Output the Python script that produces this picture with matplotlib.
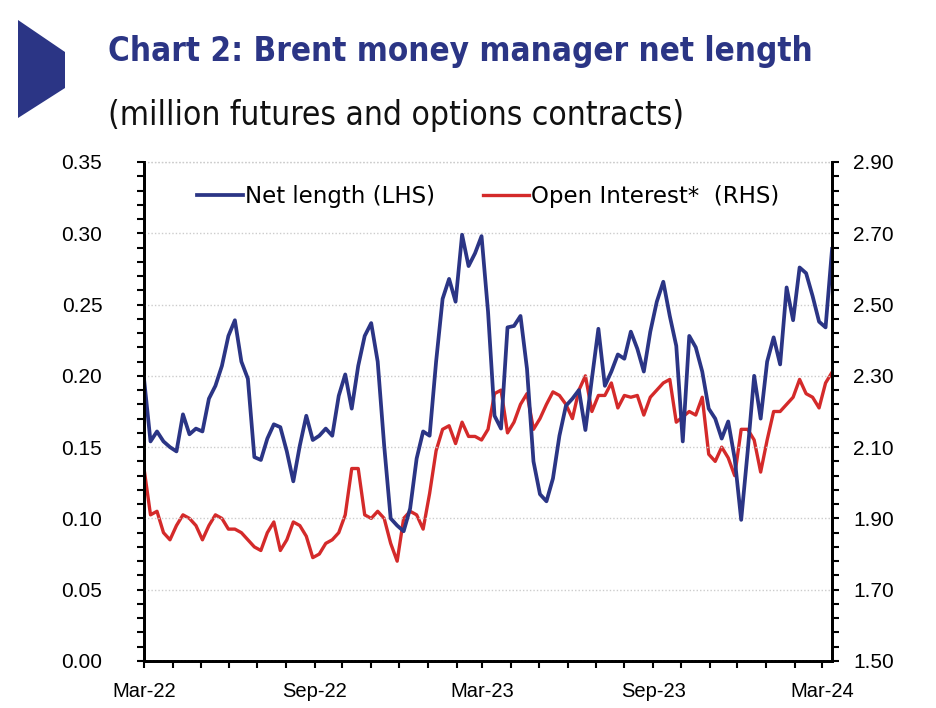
import numpy as np
import pandas as pd
import matplotlib
matplotlib.use('Agg')
import matplotlib.pyplot as plt
import matplotlib.dates as mdates
from matplotlib.patches import Polygon
from matplotlib.ticker import MultipleLocator, FixedLocator, FormatStrFormatter

# weekly data, Mar-22 .. Mar-24
dates = pd.date_range('2022-03-01', periods=107, freq='7D')

net_length = [
    0.198, 0.154, 0.161, 0.154, 0.150, 0.147, 0.173, 0.159, 0.163, 0.161,
    0.184, 0.193, 0.207, 0.228, 0.239, 0.210, 0.198, 0.143, 0.141, 0.156,
    0.166, 0.164, 0.147, 0.126, 0.151, 0.172, 0.155, 0.158, 0.163, 0.158,
    0.186, 0.201, 0.177, 0.207, 0.228, 0.237, 0.210, 0.151, 0.100, 0.095,
    0.091, 0.107, 0.142, 0.161, 0.158, 0.210, 0.254, 0.268, 0.252, 0.299,
    0.277, 0.286, 0.298, 0.245, 0.172, 0.163, 0.234, 0.235, 0.242, 0.205,
    0.140, 0.117, 0.112, 0.128, 0.158, 0.179, 0.184, 0.190, 0.162, 0.198,
    0.233, 0.193, 0.203, 0.215, 0.212, 0.231, 0.219, 0.203, 0.231, 0.252,
    0.266, 0.242, 0.221, 0.154, 0.228, 0.220, 0.203, 0.177, 0.170, 0.156,
    0.168, 0.142, 0.099, 0.147, 0.200, 0.170, 0.210, 0.227, 0.208, 0.262,
    0.239, 0.276, 0.272, 0.256, 0.238, 0.234, 0.289,
]

open_interest = [
    2.04, 1.91, 1.92, 1.86, 1.84, 1.88, 1.91, 1.90, 1.88, 1.84,
    1.88, 1.91, 1.90, 1.87, 1.87, 1.86, 1.84, 1.82, 1.81, 1.86,
    1.89, 1.81, 1.84, 1.89, 1.88, 1.85, 1.79, 1.80, 1.83, 1.84,
    1.86, 1.91, 2.04, 2.04, 1.91, 1.90, 1.92, 1.90, 1.83, 1.78,
    1.90, 1.92, 1.91, 1.87, 1.97, 2.09, 2.15, 2.16, 2.11, 2.17,
    2.13, 2.13, 2.12, 2.15, 2.25, 2.26, 2.14, 2.17, 2.22, 2.25,
    2.15, 2.18, 2.22, 2.255, 2.245, 2.22, 2.18, 2.26, 2.30, 2.20,
    2.245, 2.245, 2.28, 2.21, 2.245, 2.24, 2.245, 2.19, 2.24, 2.26,
    2.28, 2.29, 2.17, 2.185, 2.20, 2.19, 2.24, 2.08, 2.06, 2.10,
    2.07, 2.02, 2.15, 2.15, 2.12, 2.03, 2.12, 2.20, 2.20, 2.22,
    2.24, 2.29, 2.25, 2.24, 2.21, 2.28, 2.31,
]

navy = '#2b3585'
red = '#d42a2a'
plt.rcParams['font.family'] = ['Liberation Sans', 'DejaVu Sans']

fig = plt.figure(figsize=(9.37, 7.08), dpi=100)
ax = fig.add_axes([0.1537, 0.0664, 0.7343, 0.7048])
ax2 = ax.twinx()

l1, = ax.plot(dates, net_length, color=navy, lw=2.7, label='Net length (LHS)')
l2, = ax2.plot(dates, open_interest, color=red, lw=2.4, label='Open Interest*  (RHS)')
ax.set_zorder(ax2.get_zorder() + 1)
ax.patch.set_visible(False)

ax.set_xlim(dates[0], dates[-1])
ax.set_ylim(0, 0.35)
ax2.set_ylim(1.5, 2.9)
ax.yaxis.set_major_locator(MultipleLocator(0.05))
ax.yaxis.set_minor_locator(MultipleLocator(0.01))
ax2.yaxis.set_major_locator(FixedLocator(np.arange(1.5, 2.91, 0.2)))
ax2.yaxis.set_minor_locator(FixedLocator(np.arange(1.5, 2.91, 0.04)))
ax.yaxis.set_major_formatter(FormatStrFormatter('%.2f'))
ax2.yaxis.set_major_formatter(FormatStrFormatter('%.2f'))
ax.xaxis.set_major_locator(mdates.MonthLocator(bymonth=(3, 9)))
ax.xaxis.set_minor_locator(mdates.MonthLocator())
ax.xaxis.set_major_formatter(mdates.DateFormatter('%b-%y'))

ax.grid(axis='y', color='#cccccc', ls=(0, (1, 1.5)), lw=1.0)
ax.set_axisbelow(True)

for a in (ax, ax2):
    a.spines['top'].set_visible(False)
    for s in ('left', 'right', 'bottom'):
        a.spines[s].set_linewidth(2.0)
    a.tick_params(which='both', direction='out', length=5, width=1.5,
                  labelsize=15, colors='black')
ax.tick_params(axis='y', pad=25)
ax2.tick_params(axis='y', pad=10)
ax.tick_params(axis='x', pad=10, labelsize=14.5)
ax.axhline(0.35, color='#cccccc', ls=(0, (1, 1.5)), lw=1.0, clip_on=False)

ax.legend(handles=[l1, l2], loc='upper center', bbox_to_anchor=(0.5, 0.995),
          ncol=2, frameon=False, prop={'family': 'DejaVu Sans', 'size': 16.5},
          handlelength=2.0, handletextpad=0.1, columnspacing=2.1)

fig.patches.append(Polygon([(18 / 937, 1 - 20 / 708), (65 / 937, 1 - 52 / 708),
                            (65 / 937, 1 - 88 / 708), (18 / 937, 1 - 118 / 708)],
                           closed=True, transform=fig.transFigure,
                           facecolor=navy, edgecolor='none'))
fig.text(108 / 937, 1 - 52 / 708, 'Chart 2: Brent money manager net length',
         family='DejaVu Sans', stretch='condensed', weight='bold',
         fontsize=23.8, color=navy, va='center', ha='left')
fig.text(108 / 937, 1 - 115 / 708, '(million futures and options contracts)',
         family='DejaVu Sans', stretch='condensed',
         fontsize=24, color='#111111', va='center', ha='left')

fig.savefig('out.png', dpi=100)
